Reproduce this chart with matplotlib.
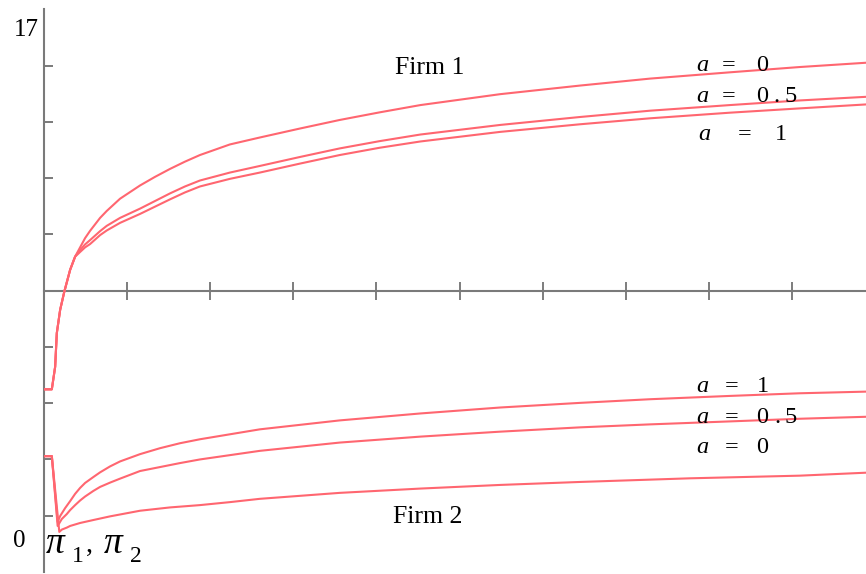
import matplotlib
matplotlib.use("Agg")
import matplotlib.pyplot as plt

# ---- profit curves (x: parameter, y: profit) ----
# Firm 1: common steep start, then one branch per value of a
f1_start_x = [0.00, 0.10, 0.14, 0.16, 0.20, 0.25, 0.32, 0.38]
f1_start_y = [5.52, 5.52, 6.20, 7.22, 7.92, 8.47, 9.13, 9.53]

f1_a0_x = [0.44, 0.50, 0.56, 0.68, 0.76, 0.92, 1.16, 1.34, 1.52, 1.70, 1.88, 2.24, 2.60,
           3.08, 3.56, 4.04, 4.53, 5.49, 6.45, 7.29, 8.25, 9.09, 9.89, 10.0]
f1_a0_y = [9.81, 10.09, 10.31, 10.70, 10.91, 11.28, 11.68, 11.94, 12.18, 12.40, 12.60, 12.92, 13.13,
           13.40, 13.66, 13.89, 14.11, 14.44, 14.70, 14.91, 15.10, 15.26, 15.39, 15.41]

f1_a05_x = [0.44, 0.50, 0.56, 0.68, 0.76, 0.92, 1.16, 1.34, 1.52, 1.70, 1.88, 2.24, 2.60,
            3.08, 3.56, 4.04, 4.53, 5.49, 6.45, 7.29, 8.25, 9.09, 9.89, 10.0]
f1_a05_y = [9.73, 9.90, 10.03, 10.30, 10.46, 10.70, 10.98, 11.21, 11.44, 11.65, 11.83, 12.07, 12.27,
            12.54, 12.80, 13.02, 13.22, 13.51, 13.75, 13.94, 14.11, 14.25, 14.36, 14.38]

f1_a1_x = [0.44, 0.50, 0.56, 0.68, 0.76, 0.92, 1.16, 1.34, 1.52, 1.70, 1.88, 2.24, 2.60,
           3.08, 3.56, 4.04, 4.53, 5.49, 6.45, 7.29, 8.25, 9.09, 9.89, 10.0]
f1_a1_y = [9.67, 9.81, 9.91, 10.18, 10.32, 10.55, 10.82, 11.04, 11.26, 11.47, 11.65, 11.88, 12.07,
           12.34, 12.60, 12.82, 13.01, 13.30, 13.53, 13.71, 13.88, 14.01, 14.13, 14.15]

# Firm 2: flat start, sharp dip, then one branch per value of a
f2_start_x = [0.00, 0.10]
f2_start_y = [3.50, 3.50]

f2_a1_x = [0.17, 0.20, 0.26, 0.32, 0.38, 0.44, 0.50, 0.60, 0.68, 0.80, 0.92, 1.16, 1.40, 1.64,
           1.88, 2.24, 2.60, 3.56, 4.53, 5.49, 6.45, 7.29, 8.25, 9.09, 9.89, 10.0]
f2_a1_y = [1.51, 1.69, 1.93, 2.14, 2.36, 2.54, 2.69, 2.87, 3.01, 3.19, 3.34, 3.56, 3.74, 3.89,
           4.01, 4.16, 4.31, 4.58, 4.79, 4.97, 5.11, 5.22, 5.32, 5.40, 5.45, 5.46]

f2_a05_x = [0.17, 0.22, 0.28, 0.32, 0.38, 0.44, 0.50, 0.60, 0.68, 0.80, 0.92, 1.16, 1.40, 1.64,
            1.88, 2.24, 2.60, 3.56, 4.53, 5.49, 6.45, 7.29, 8.25, 9.09, 9.89, 10.0]
f2_a05_y = [1.39, 1.60, 1.75, 1.87, 2.02, 2.16, 2.28, 2.45, 2.57, 2.70, 2.82, 3.05, 3.17, 3.29,
            3.40, 3.53, 3.66, 3.91, 4.09, 4.24, 4.37, 4.46, 4.55, 4.63, 4.69, 4.70]

f2_a0_x = [0.19, 0.22, 0.28, 0.32, 0.44, 0.60, 0.80, 1.16, 1.52, 1.88, 2.24, 2.60, 3.56, 4.53,
           5.49, 6.45, 7.77, 9.09, 9.89, 10.0]
f2_a0_y = [1.21, 1.28, 1.34, 1.39, 1.48, 1.57, 1.68, 1.85, 1.95, 2.02, 2.11, 2.21, 2.39, 2.52,
           2.63, 2.72, 2.83, 2.91, 3.00, 3.01]

y_min, y_max = 0, 17
x_min, x_max = 0, 10
x_ticks = [1, 2, 3, 4, 5, 6, 7, 8, 9]
y_ticks = [1.7 * k for k in range(1, 10)]
x_axis_level = 8.5

LINE = "#ff6670"
AXIS = "#7a7a7a"
TICK = "#5a5a5a"
SERIF = "Liberation Serif"

fig = plt.figure(figsize=(8.66, 5.74), dpi=100)
ax = fig.add_axes([43.5 / 866, 2.05 / 574, 832 / 866, 562.5 / 574])
ax.set_xlim(x_min, x_max)
ax.set_ylim(y_min, y_max)

for s in ("top", "right"):
    ax.spines[s].set_visible(False)
ax.spines["left"].set_position(("data", 0))
ax.spines["bottom"].set_position(("data", x_axis_level))
ax.spines["left"].set_color(AXIS)
ax.spines["bottom"].set_color(AXIS)
ax.spines["left"].set_linewidth(1.5)
ax.spines["bottom"].set_linewidth(1.5)

ax.set_xticks(x_ticks)
ax.set_yticks(y_ticks)
ax.tick_params(axis="x", direction="inout", length=13, width=1.1, color=TICK,
               labelbottom=False)
ax.tick_params(axis="y", direction="in", length=6.5, width=1.4, color=AXIS,
               labelleft=False)


def curve(start_x, start_y, xs, ys):
    ax.plot(start_x + xs, start_y + ys, color=LINE, lw=1.5,
            solid_joinstyle="round", zorder=3)


curve(f1_start_x, f1_start_y, f1_a0_x, f1_a0_y)
curve(f1_start_x, f1_start_y, f1_a05_x, f1_a05_y)
curve(f1_start_x, f1_start_y, f1_a1_x, f1_a1_y)
curve(f2_start_x, f2_start_y, f2_a1_x, f2_a1_y)
curve(f2_start_x, f2_start_y, f2_a05_x, f2_a05_y)
curve(f2_start_x, f2_start_y, f2_a0_x, f2_a0_y)

# axis range labels
ax.text(-0.054, 16.20, "17", family=SERIF, fontsize=18, ha="right", va="baseline")
ax.text(-0.222, 0.76, "0", family=SERIF, fontsize=18, ha="right", va="baseline")

# panel titles
ax.text(4.22, 15.04, "Firm 1", family=SERIF, fontsize=18.5, va="baseline")
ax.text(4.20, 1.47, "Firm 2", family=SERIF, fontsize=18.5, va="baseline")


def a_label(y, pieces):
    # pieces: list of (x, text, italic)
    for x, t, it in pieces:
        ax.text(x, y, t, family=SERIF, fontsize=17.5, va="baseline",
                style="italic" if it else "normal", zorder=4)


a_label(15.15, [(7.85, "a", True), (8.15, "=", False), (8.57, "0", False)])
a_label(14.21, [(7.85, "a", True), (8.15, "=", False), (8.57, "0", False),
                (8.77, ".", False), (8.91, "5", False)])
a_label(13.06, [(7.87, "a", True), (8.35, "=", False), (8.79, "1", False)])

a_label(5.45, [(7.85, "a", True), (8.19, "=", False), (8.57, "1", False)])
a_label(4.49, [(7.85, "a", True), (8.19, "=", False), (8.57, "0", False),
               (8.79, ".", False), (8.91, "5", False)])
a_label(3.59, [(7.85, "a", True), (8.19, "=", False), (8.57, "0", False)])

# y-axis name: pi_1, pi_2
ax.text(0.03, 0.56, "\u03c0", family=SERIF, style="italic", fontsize=27, va="baseline")
ax.text(0.34, 0.31, "1", family=SERIF, fontsize=17, va="baseline")
ax.text(0.51, 0.60, ",", family=SERIF, fontsize=20, va="baseline")
ax.text(0.73, 0.56, "\u03c0", family=SERIF, style="italic", fontsize=27, va="baseline")
ax.text(1.04, 0.31, "2", family=SERIF, fontsize=17, va="baseline")

fig.savefig("out.png", dpi=100)
